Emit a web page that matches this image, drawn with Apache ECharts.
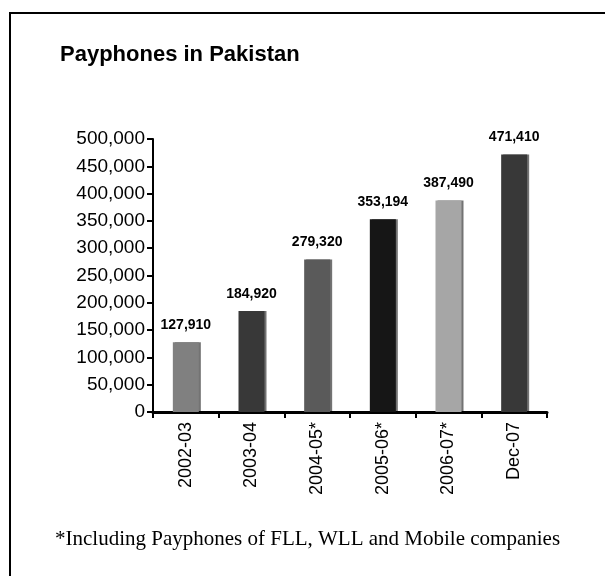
<!DOCTYPE html>
<html>
<head>
<meta charset="utf-8">
<script src="https://cdn.jsdelivr.net/npm/echarts@6/dist/echarts.min.js"></script>
<style>
html,body{margin:0;padding:0;background:#fff;}
#c{width:605px;height:576px;}
</style>
</head>
<body>
<div id="c"></div>
<script>
var categories = ['2002-03', '2003-04', '2004-05*', '2005-06*', '2006-07*', 'Dec-07'];
var values = [127910, 184920, 279320, 353194, 387490, 471410];
var barColors = ['#808080', '#383838', '#5a5a5a', '#161616', '#a6a6a6', '#383838'];
var yTicks = [0, 50000, 100000, 150000, 200000, 250000, 300000, 350000, 400000, 450000, 500000];
var titleText = 'Payphones in Pakistan';
var footnote = '*Including Payphones of FLL, WLL and Mobile companies';

function fmt(v){ return String(v).replace(/\B(?=(\d{3})+(?!\d))/g, ','); }

var chart = echarts.init(document.getElementById('c'), null, {renderer:'canvas'});
chart.setOption({
  animation: false,
  backgroundColor: '#ffffff',
  title: {
    text: titleText, left: 55, top: 39,
    textStyle: {fontFamily: 'Liberation Sans, Arial, sans-serif', fontWeight: 'bold', fontSize: 22, color: '#000'}
  },
  grid: {left: 153, right: 58, top: 139, bottom: 164},
  xAxis: {
    type: 'category', data: categories,
    axisLine: {lineStyle: {color: '#000', width: 3}},
    axisTick: {show: true, length: 6, lineStyle: {color: '#000', width: 2}},
    axisLabel: {rotate: 90, margin: 10, color: '#000', fontSize: 18, fontFamily: 'Liberation Sans, Arial, sans-serif'}
  },
  yAxis: {
    type: 'value', min: yTicks[0], max: yTicks[yTicks.length-1], interval: yTicks[1]-yTicks[0],
    splitLine: {show: false},
    axisLine: {show: true, lineStyle: {color: '#000', width: 2}},
    axisTick: {show: true, length: 6, lineStyle: {color: '#000', width: 2}},
    axisLabel: {margin: 8, color: '#000', fontSize: 19, fontFamily: 'Liberation Sans, Arial, sans-serif', formatter: function(v){return fmt(v);}}
  },
  series: [{
    type: 'bar', barWidth: 26,
    data: values.map(function(v,i){ return {value: v, itemStyle: {color: barColors[i]}}; }),
    itemStyle: {shadowColor: 'rgba(0,0,0,0.55)', shadowOffsetX: 2, shadowOffsetY: 0, shadowBlur: 0},
    label: {show: true, position: 'top', distance: 10, color: '#000', fontWeight: 'bold', fontSize: 14,
      fontFamily: 'Liberation Sans, Arial, sans-serif', formatter: function(p){return fmt(p.value);}}
  }],
  graphic: [
    {type: 'rect', shape: {x: 10, y: 13, width: 800, height: 800}, style: {fill: 'none', stroke: '#000', lineWidth: 2}, silent: true},
    {type: 'text', left: 55, top: 529, style: {text: footnote, font: '21px "Liberation Serif", "Times New Roman", serif', fill: '#000'}}
  ]
});
</script>
</body>
</html>
